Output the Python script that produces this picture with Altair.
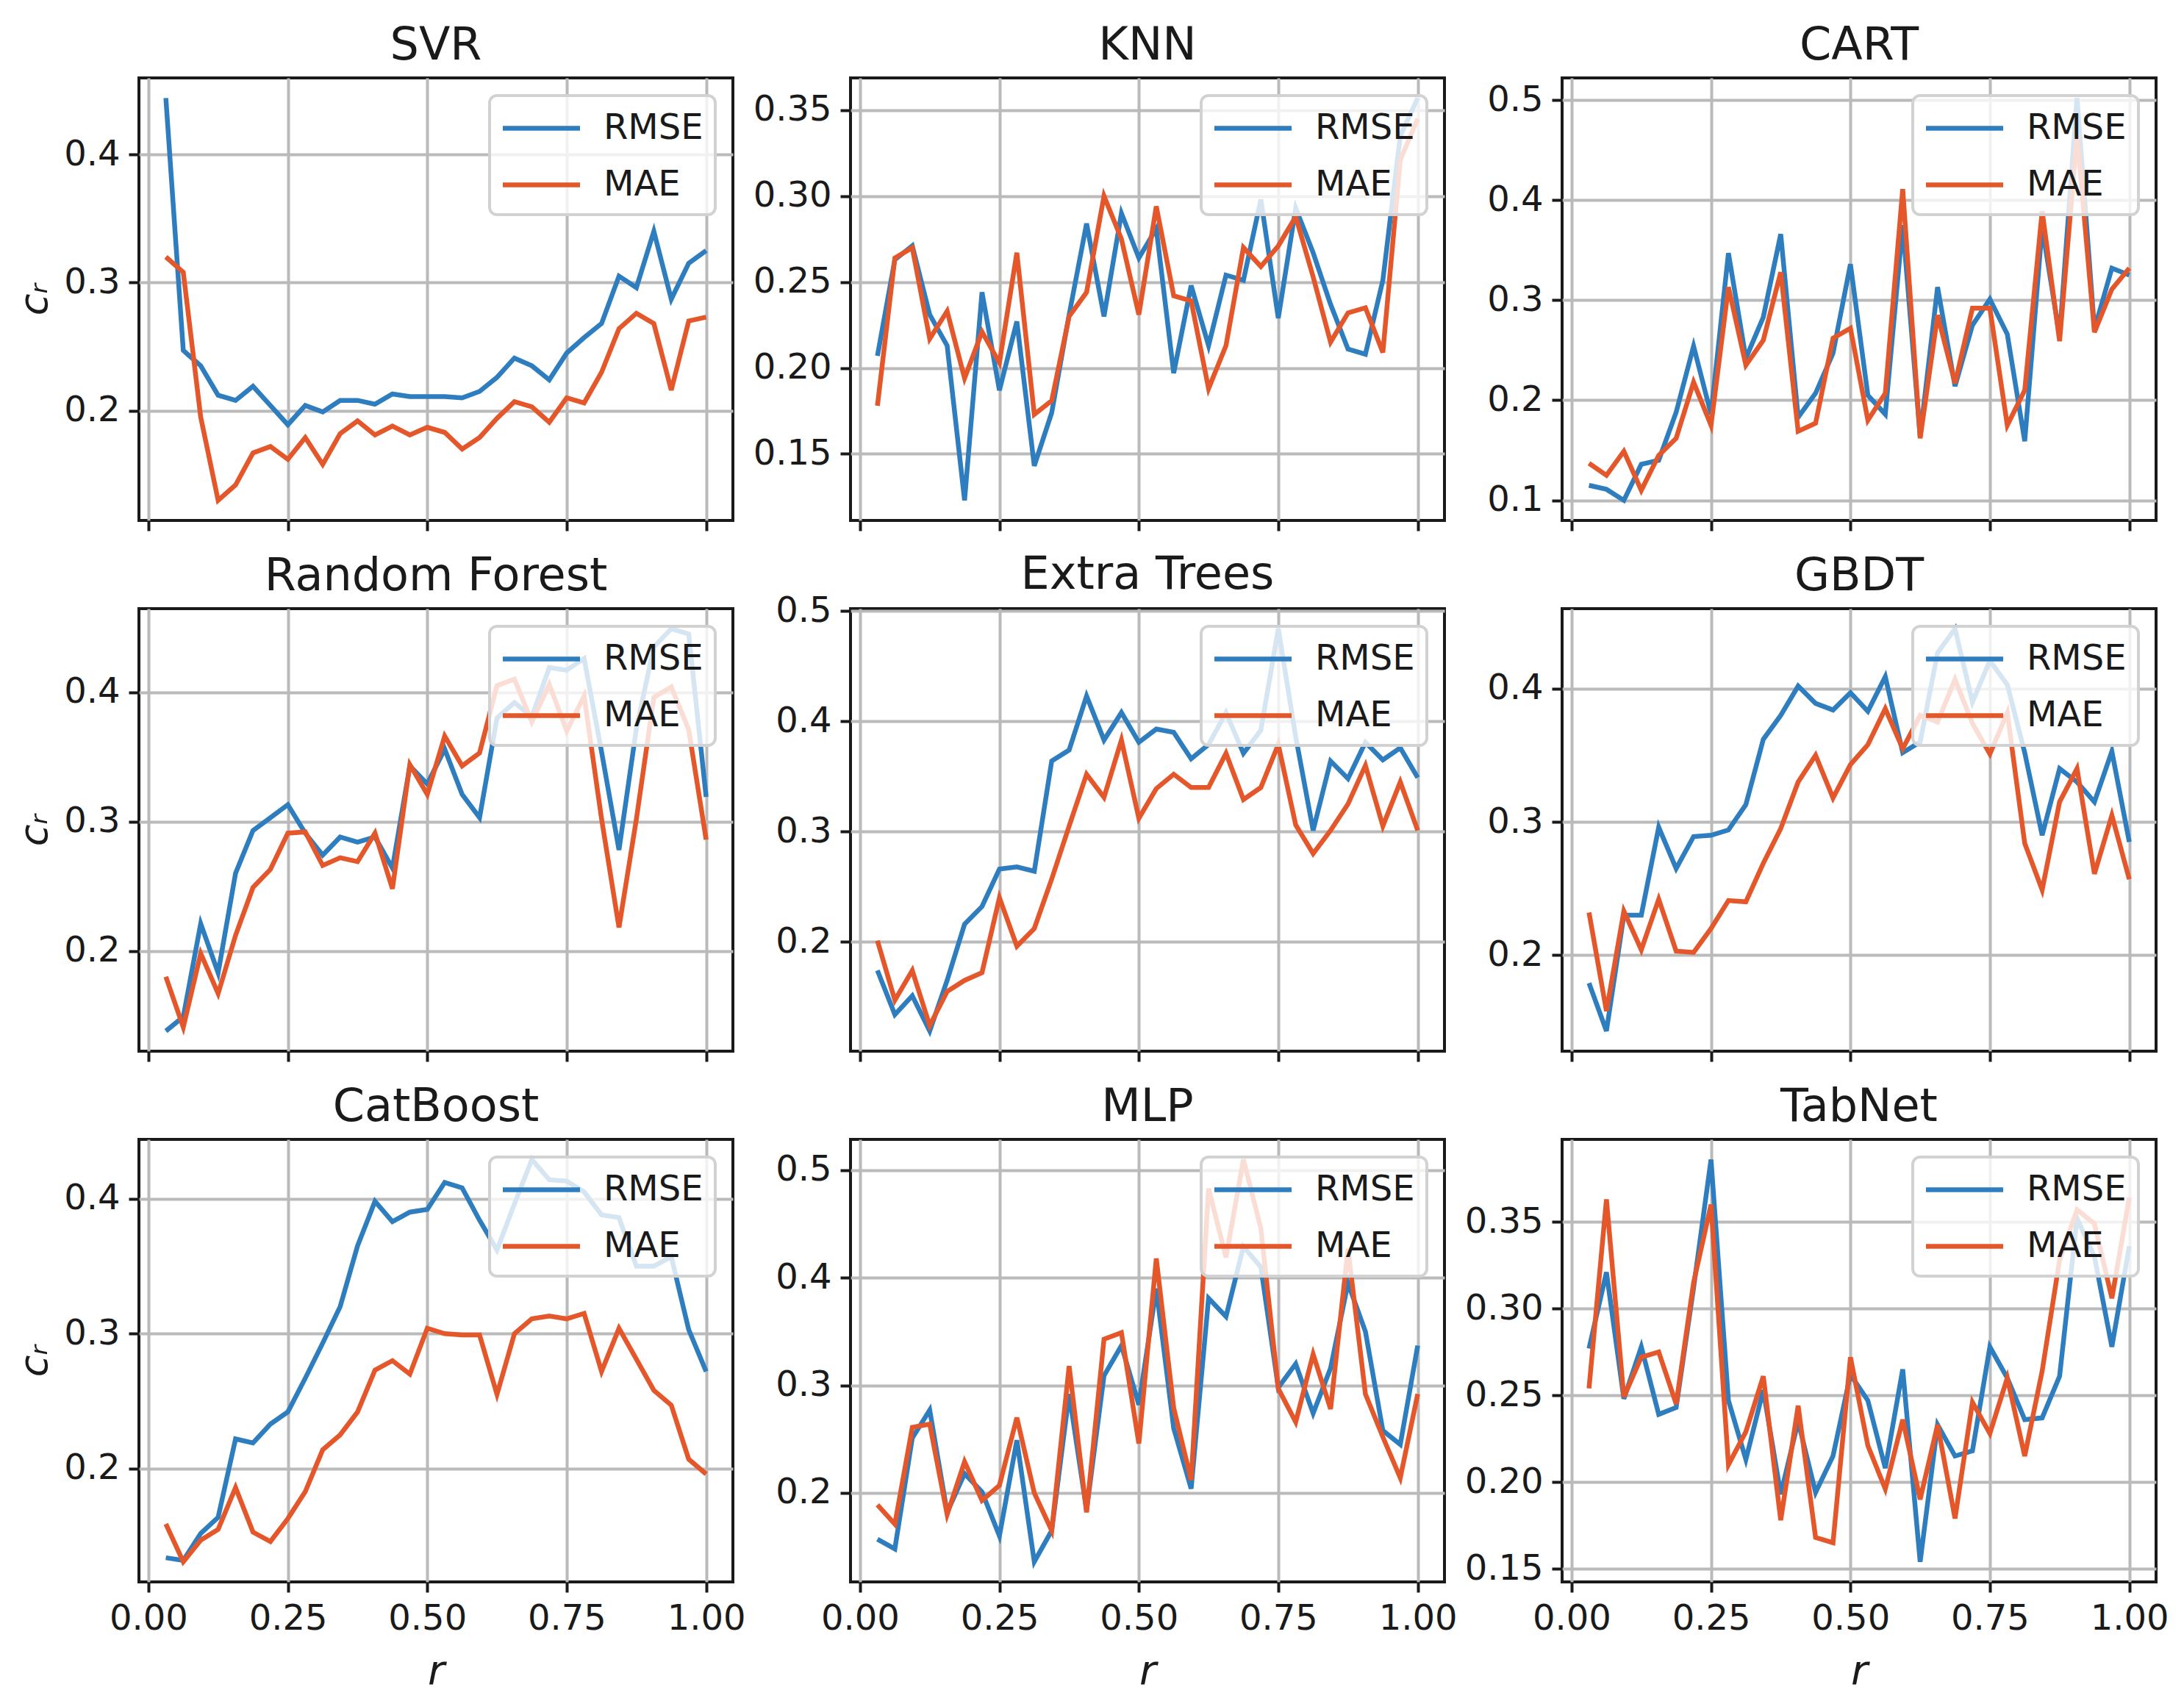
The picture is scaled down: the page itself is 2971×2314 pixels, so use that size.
import altair as alt
import pandas as pd

# sampling ratio r (32 steps)
R = [0.03125, 0.0625, 0.09375, 0.125, 0.15625, 0.1875, 0.21875, 0.25,
     0.28125, 0.3125, 0.34375, 0.375, 0.40625, 0.4375, 0.46875, 0.5,
     0.53125, 0.5625, 0.59375, 0.625, 0.65625, 0.6875, 0.71875, 0.75,
     0.78125, 0.8125, 0.84375, 0.875, 0.90625, 0.9375, 0.96875, 1.0]

SVR_RMSE = [0.444, 0.247, 0.235, 0.212, 0.208, 0.219, 0.204, 0.189, 0.204, 0.199, 0.208, 0.208, 0.205, 0.213, 0.211, 0.211,
            0.211, 0.210, 0.215, 0.226, 0.241, 0.235, 0.224, 0.245, 0.257, 0.268, 0.305, 0.296, 0.340, 0.287, 0.315, 0.325]
SVR_MAE = [0.320, 0.308, 0.195, 0.130, 0.142, 0.167, 0.172, 0.162, 0.179, 0.158, 0.182, 0.192, 0.181, 0.188, 0.181, 0.187,
           0.183, 0.170, 0.179, 0.194, 0.207, 0.203, 0.191, 0.210, 0.206, 0.230, 0.264, 0.276, 0.268, 0.216, 0.270, 0.273]

KNN_RMSE = [0.207, 0.263, 0.271, 0.231, 0.213, 0.123, 0.244, 0.187, 0.227, 0.143, 0.174, 0.231, 0.284, 0.230, 0.290, 0.264,
            0.281, 0.197, 0.248, 0.213, 0.254, 0.251, 0.298, 0.229, 0.293, 0.267, 0.237, 0.211, 0.208, 0.251, 0.335, 0.357]
KNN_MAE = [0.178, 0.264, 0.270, 0.217, 0.233, 0.194, 0.221, 0.203, 0.267, 0.173, 0.181, 0.230, 0.244, 0.300, 0.275, 0.231,
           0.294, 0.242, 0.239, 0.188, 0.213, 0.270, 0.259, 0.271, 0.288, 0.253, 0.215, 0.232, 0.235, 0.209, 0.321, 0.345]

CART_RMSE = [0.115, 0.111, 0.100, 0.136, 0.140, 0.188, 0.254, 0.186, 0.347, 0.242, 0.283, 0.366, 0.183, 0.207, 0.247, 0.336,
             0.205, 0.186, 0.375, 0.164, 0.313, 0.214, 0.275, 0.301, 0.266, 0.159, 0.373, 0.264, 0.502, 0.271, 0.332, 0.325]
CART_MAE = [0.137, 0.125, 0.149, 0.110, 0.145, 0.162, 0.218, 0.175, 0.313, 0.235, 0.260, 0.328, 0.169, 0.177, 0.262, 0.272,
            0.180, 0.207, 0.411, 0.162, 0.285, 0.217, 0.292, 0.292, 0.175, 0.210, 0.389, 0.259, 0.465, 0.268, 0.311, 0.332]

RF_RMSE = [0.138, 0.149, 0.221, 0.183, 0.260, 0.293, 0.303, 0.313, 0.291, 0.274, 0.288, 0.284, 0.288, 0.264, 0.343, 0.329,
           0.356, 0.321, 0.303, 0.380, 0.392, 0.381, 0.419, 0.417, 0.426, 0.354, 0.278, 0.372, 0.435, 0.449, 0.445, 0.319]
RF_MAE = [0.180, 0.141, 0.198, 0.167, 0.212, 0.249, 0.263, 0.291, 0.292, 0.266, 0.272, 0.269, 0.291, 0.248, 0.344, 0.321,
          0.366, 0.343, 0.353, 0.405, 0.410, 0.377, 0.406, 0.370, 0.397, 0.302, 0.218, 0.302, 0.396, 0.404, 0.371, 0.286]

ET_RMSE = [0.174, 0.134, 0.151, 0.119, 0.165, 0.216, 0.232, 0.266, 0.268, 0.264, 0.364, 0.374, 0.423, 0.383, 0.408, 0.381,
           0.393, 0.390, 0.366, 0.379, 0.408, 0.371, 0.392, 0.484, 0.386, 0.301, 0.364, 0.348, 0.381, 0.365, 0.376, 0.349]
ET_MAE = [0.201, 0.147, 0.174, 0.124, 0.155, 0.165, 0.172, 0.240, 0.196, 0.212, 0.257, 0.305, 0.352, 0.331, 0.383, 0.312,
          0.339, 0.352, 0.340, 0.340, 0.371, 0.329, 0.340, 0.379, 0.306, 0.280, 0.301, 0.325, 0.360, 0.305, 0.345, 0.301]

GBDT_RMSE = [0.179, 0.143, 0.230, 0.230, 0.296, 0.265, 0.289, 0.290, 0.294, 0.313, 0.362, 0.380, 0.402, 0.389, 0.384, 0.397,
             0.383, 0.409, 0.352, 0.360, 0.427, 0.445, 0.390, 0.421, 0.403, 0.352, 0.290, 0.340, 0.330, 0.315, 0.353, 0.285]
GBDT_MAE = [0.232, 0.158, 0.233, 0.204, 0.242, 0.203, 0.202, 0.220, 0.241, 0.240, 0.269, 0.295, 0.330, 0.350, 0.318, 0.343,
            0.358, 0.385, 0.355, 0.380, 0.375, 0.407, 0.374, 0.351, 0.382, 0.284, 0.249, 0.315, 0.340, 0.261, 0.305, 0.257]

CB_RMSE = [0.134, 0.132, 0.152, 0.164, 0.222, 0.219, 0.233, 0.242, 0.267, 0.293, 0.320, 0.365, 0.398, 0.383, 0.390, 0.392,
           0.412, 0.408, 0.384, 0.362, 0.396, 0.429, 0.414, 0.413, 0.405, 0.388, 0.386, 0.350, 0.350, 0.357, 0.303, 0.272]
CB_MAE = [0.159, 0.131, 0.147, 0.155, 0.186, 0.153, 0.146, 0.163, 0.183, 0.214, 0.225, 0.242, 0.273, 0.280, 0.270, 0.304,
          0.300, 0.299, 0.299, 0.255, 0.300, 0.311, 0.313, 0.311, 0.315, 0.272, 0.304, 0.281, 0.258, 0.247, 0.207, 0.196]

MLP_RMSE = [0.157, 0.148, 0.251, 0.277, 0.182, 0.218, 0.201, 0.160, 0.249, 0.136, 0.165, 0.292, 0.184, 0.309, 0.337, 0.282,
            0.390, 0.260, 0.204, 0.381, 0.364, 0.429, 0.410, 0.298, 0.320, 0.274, 0.316, 0.395, 0.350, 0.258, 0.245, 0.337]
MLP_MAE = [0.189, 0.171, 0.261, 0.264, 0.180, 0.229, 0.193, 0.207, 0.270, 0.200, 0.165, 0.318, 0.182, 0.343, 0.349, 0.246,
           0.418, 0.279, 0.212, 0.483, 0.419, 0.510, 0.446, 0.297, 0.266, 0.329, 0.278, 0.427, 0.292, 0.252, 0.214, 0.292]

TAB_RMSE = [0.277, 0.321, 0.248, 0.278, 0.239, 0.243, 0.312, 0.386, 0.247, 0.213, 0.253, 0.193, 0.235, 0.194, 0.215, 0.262,
            0.247, 0.208, 0.265, 0.154, 0.233, 0.215, 0.218, 0.278, 0.260, 0.236, 0.237, 0.261, 0.352, 0.330, 0.278, 0.336]
TAB_MAE = [0.254, 0.363, 0.249, 0.272, 0.275, 0.245, 0.315, 0.360, 0.210, 0.229, 0.261, 0.178, 0.244, 0.168, 0.165, 0.272,
           0.221, 0.196, 0.236, 0.190, 0.233, 0.179, 0.246, 0.228, 0.260, 0.215, 0.264, 0.328, 0.357, 0.349, 0.306, 0.364]

# (title, rmse, mae, y tick values, tick format)
PANELS = [
    ("SVR", SVR_RMSE, SVR_MAE, [0.2, 0.3, 0.4], ".1f"),
    ("KNN", KNN_RMSE, KNN_MAE, [0.15, 0.2, 0.25, 0.3, 0.35], ".2f"),
    ("CART", CART_RMSE, CART_MAE, [0.1, 0.2, 0.3, 0.4, 0.5], ".1f"),
    ("Random Forest", RF_RMSE, RF_MAE, [0.2, 0.3, 0.4], ".1f"),
    ("Extra Trees", ET_RMSE, ET_MAE, [0.2, 0.3, 0.4, 0.5], ".1f"),
    ("GBDT", GBDT_RMSE, GBDT_MAE, [0.2, 0.3, 0.4], ".1f"),
    ("CatBoost", CB_RMSE, CB_MAE, [0.2, 0.3, 0.4], ".1f"),
    ("MLP", MLP_RMSE, MLP_MAE, [0.2, 0.3, 0.4, 0.5], ".1f"),
    ("TabNet", TAB_RMSE, TAB_MAE, [0.15, 0.2, 0.25, 0.3, 0.35], ".2f"),
]
X_TICKS = [0.0, 0.25, 0.5, 0.75, 1.0]
METRICS = ["RMSE", "MAE"]
COLORS = ["#2e7ebf", "#e4572a"]
INK = "#1a1a1a"
FONT = "DejaVu Sans"


def panel(idx, name, rmse, mae, yticks, fmt):
    df = pd.DataFrame({
        "r": R + R,
        "value": rmse + mae,
        "metric": ["RMSE"] * len(R) + ["MAE"] * len(R),
    })
    lo, hi = min(rmse + mae), max(rmse + mae)
    pad = 0.05 * (hi - lo)
    bottom_row = idx >= 6
    left_col = idx % 3 == 0

    # the "0.5" label sticks out above Extra Trees and pushes its title up
    title_offset = 12 - 19 if name == "Extra Trees" else 12

    x_axis = alt.Axis(
        values=X_TICKS, format=".2f", labels=bottom_row,
        title="r" if bottom_row else None, titleFontStyle="italic",
    )
    y_axis = alt.Axis(
        values=yticks, format=fmt,
        title="cᵣ" if left_col else None, titleFontStyle="italic",
        titleFontSize=54, titlePadding=12,
    )
    legend = alt.Legend(
        title=None, orient="top-right", offset=24,
        symbolType="M-2.1,0H2.1", symbolSize=2500, symbolStrokeWidth=6.5,
        symbolOffset=26, labelOffset=56, padding=16, rowPadding=24,
        fillColor="rgba(255,255,255,0.8)", strokeColor="#d2d2d2", cornerRadius=10,
        labelFontSize=48, labelFont=FONT, labelColor=INK,
    )
    return alt.Chart(df, title=alt.TitleParams(name, offset=title_offset)).mark_line(strokeWidth=6.5).encode(
        x=alt.X("r:Q", scale=alt.Scale(domain=[-0.017, 1.048], nice=False, zero=False), axis=x_axis),
        y=alt.Y("value:Q", scale=alt.Scale(domain=[lo - pad, hi + pad], nice=False, zero=False), axis=y_axis),
        color=alt.Color("metric:N", scale=alt.Scale(domain=METRICS, range=COLORS), legend=legend),
        order=alt.Order("r:Q"),
    ).properties(width=808, height=602)


charts = [panel(i, *p) for i, p in enumerate(PANELS)]

chart = (
    alt.concat(*charts, columns=3, spacing={"row": 120, "column": 160}, bounds="flush")
    .resolve_scale(color="independent", x="independent", y="independent")
    .properties(padding={"left": 10, "top": 21, "right": 5, "bottom": 5})
    .configure_view(stroke=INK, strokeWidth=4)
    .configure_axis(
        labelFont=FONT, labelFontSize=48, labelColor=INK, labelPadding=12,
        titleFont=FONT, titleFontSize=56, titleFontWeight="normal", titleColor=INK, titlePadding=20,
        tickColor=INK, tickSize=14, tickWidth=4, domain=False,
        grid=True, gridColor="#bababa", gridWidth=4,
    )
    .configure_legend(strokeWidth=4)
    .configure_title(font=FONT, fontSize=62, fontWeight="normal", color=INK)
)

chart.save("out.html", embed_options={"renderer": "svg", "actions": False})
